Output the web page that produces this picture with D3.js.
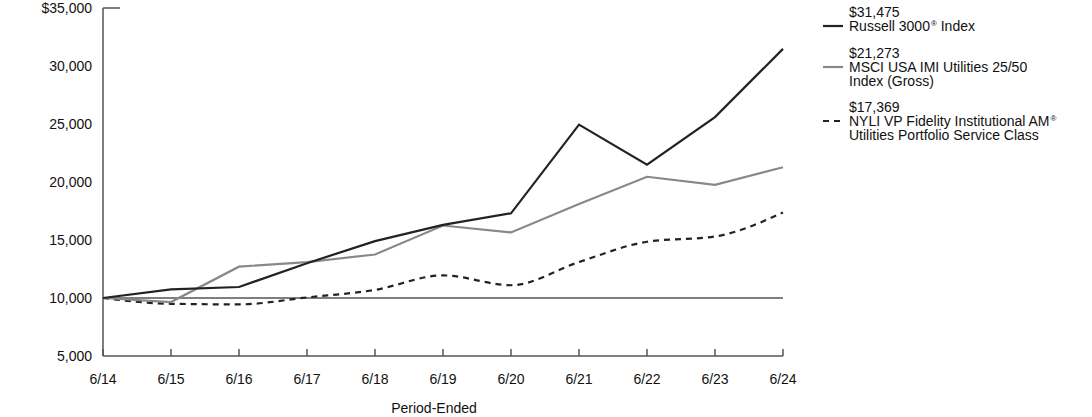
<!DOCTYPE html>
<html><head><meta charset="utf-8">
<script src="https://cdn.jsdelivr.net/npm/d3@7"></script>
<style>body{margin:0;background:#fff}svg{display:block;font-family:"Liberation Sans",Arial,sans-serif}</style>
</head><body><svg id="c" width="1092" height="417"></svg>
<script>
const periods = ["6/14","6/15","6/16","6/17","6/18","6/19","6/20","6/21","6/22","6/23","6/24"];
const russell = [10000,10750,10950,13000,14900,16300,17300,24950,21500,25600,31475];
const msci = [10000,9650,12700,13100,13750,16250,15650,18100,20450,19750,21273];
const nyli = [10000,9500,9450,10050,10700,11950,11100,13100,14850,15300,17369];
const yTicks = [5000,10000,15000,20000,25000,30000,35000];
const legendValues = ["$31,475","$21,273","$17,369"];

const FS = 14;
const svg = d3.select("#c");
const x = d3.scalePoint().domain(periods).range([103,783]);
const y = d3.scaleLinear().domain([5000,35000]).range([356,8]);

svg.append("line").attr("x1",103).attr("x2",103).attr("y1",y(35000)).attr("y2",y(5000)).attr("stroke","#555").attr("stroke-width",1.5);
svg.append("line").attr("x1",103).attr("x2",120).attr("y1",y(35000)).attr("y2",y(35000)).attr("stroke","#555").attr("stroke-width",1.5);
svg.selectAll(".yl").data(yTicks).enter().append("text")
  .attr("x",92).attr("y",d=>y(d)+5).attr("text-anchor","end").attr("font-size",FS).attr("fill","#111")
  .text(d=>(d===35000?"$":"")+d3.format(",")(d));

svg.append("line").attr("x1",103).attr("x2",783).attr("y1",356).attr("y2",356).attr("stroke","#555").attr("stroke-width",1.5);
svg.selectAll(".xt").data(periods).enter().append("line")
  .attr("x1",d=>x(d)).attr("x2",d=>x(d)).attr("y1",356).attr("y2",349).attr("stroke","#555").attr("stroke-width",1.5);
svg.selectAll(".xl").data(periods).enter().append("text")
  .attr("x",d=>x(d)).attr("y",384).attr("text-anchor","middle").attr("font-size",FS).attr("fill","#111").text(d=>d);
svg.append("text").attr("x",434).attr("y",413).attr("text-anchor","middle").attr("font-size",FS).attr("fill","#111").text("Period-Ended");

svg.append("line").attr("x1",103).attr("x2",783).attr("y1",y(10000)).attr("y2",y(10000)).attr("stroke","#555").attr("stroke-width",1.5);

const line = d3.line().x((d,i)=>x(periods[i])).y(d=>y(d));
const lineSmooth = d3.line().x((d,i)=>x(periods[i])).y(d=>y(d)).curve(d3.curveMonotoneX);
svg.append("path").attr("d",lineSmooth(nyli)).attr("fill","none").attr("stroke","#222").attr("stroke-width",2.2).attr("stroke-dasharray","6,5");
svg.append("path").attr("d",line(msci)).attr("fill","none").attr("stroke","#888").attr("stroke-width",2.2);
svg.append("path").attr("d",line(russell)).attr("fill","none").attr("stroke","#222").attr("stroke-width",2.2);

const leg = [
  {v:legendValues[0], lines:[["Russell 3000","®"," Index"]], color:"#222", dash:null, y0:12},
  {v:legendValues[1], lines:[["MSCI USA IMI Utilities 25/50"],["Index (Gross)"]], color:"#888", dash:null, y0:53},
  {v:legendValues[2], lines:[["NYLI VP Fidelity Institutional AM","®"],["Utilities Portfolio Service Class"]], color:"#222", dash:"6,5", y0:107}
];
leg.forEach(e=>{
  const g = svg.append("g");
  g.append("text").attr("x",849).attr("y",e.y0+5).attr("font-size",FS).attr("fill","#111").text(e.v);
  e.lines.forEach((parts,i)=>{
    const t = g.append("text").attr("x",849).attr("y",e.y0+14+i*14+5).attr("font-size",FS).attr("fill","#111");
    parts.forEach((p,j)=>{
      if(p==="®") t.append("tspan").attr("font-size",8).attr("dy",-5).attr("dx",1).text(p);
      else t.append("tspan").attr("dy",j>0?5:0).text(p);
    });
  });
  g.append("line").attr("x1",823).attr("x2",843).attr("y1",e.y0+14).attr("y2",e.y0+14)
    .attr("stroke",e.color).attr("stroke-width",2.2).attr("stroke-dasharray",e.dash);
});
</script></body></html>
